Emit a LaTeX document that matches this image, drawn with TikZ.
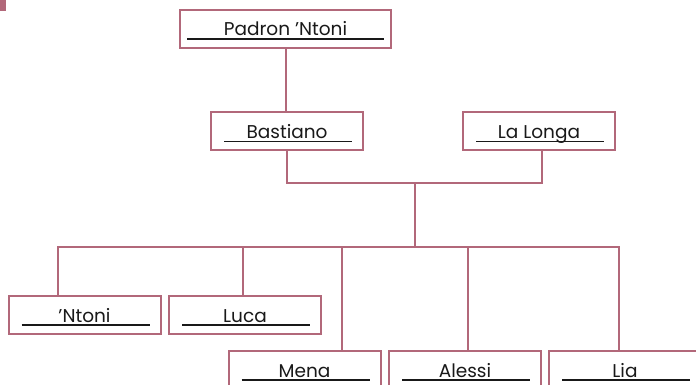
\documentclass[tikz,border=0pt]{standalone}
\usepackage{fontspec}
\setmainfont{Poppins}
\usetikzlibrary{calc}
\definecolor{rose}{RGB}{178,104,122}
\definecolor{ink}{RGB}{25,25,25}
\tikzset{
  famebox/.style={draw=rose, line width=2pt, fill=white, minimum width=152pt, minimum height=38pt,
    inner sep=0pt, text height=14pt, text depth=0pt, font=\fontsize{18.5}{18.5}\selectfont, text=ink},
  link/.style={draw=rose, line width=2pt},
  uline/.style={draw=ink, line width=1.1pt},
}
\begin{document}
\begin{tikzpicture}[x=1pt,y=-1pt]
\useasboundingbox (0,0) rectangle (696,385);
\fill[rose] (0,0) rectangle (6,11);
% nodes
\node[famebox, minimum width=211pt] (padron) at (285.5,29) {Padron ’Ntoni};
\node[famebox] (bast) at (287,131.5) {Bastiano};
\node[famebox] (longa) at (539,131.5) {La Longa};
\node[famebox] (ntoni) at (84.5,315) {’Ntoni};
\node[famebox] (luca) at (245,315) {Luca};
\node[famebox] (mena) at (304.5,370) {Mena};
\node[famebox] (alessi) at (465,370) {Alessi};
\node[famebox] (lia) at (625,370) {Lia};
% underlines
\draw[uline] ($(padron.south west)+(8,-10)$) -- ($(padron.south east)+(-8,-10)$);
\foreach \n in {bast,longa,ntoni,luca,mena,alessi,lia}{
  \draw[uline] ($(\n.south west)+(14,-10)$) -- ($(\n.south east)+(-12,-10)$);
}
% connectors
\coordinate (J) at (415,183);
\coordinate (K) at (415,246.5);
\coordinate (d1) at (58,246.5);
\coordinate (d2) at (243,246.5);
\coordinate (d3) at (342,246.5);
\coordinate (d4) at (468,246.5);
\coordinate (d5) at (619,246.5);
\coordinate (dl) at (542,183);
\draw[link] (padron.south) -- (padron.south |- bast.north);
\draw[link] (bast.south) |- (dl) -- (dl |- longa.south);
\draw[link] (J) -- (K);
\draw[link] (d1 |- ntoni.north) -- (d1) -- (d5) -- (d5 |- lia.north);
\draw[link] (d2) -- (d2 |- luca.north);
\draw[link] (d3) -- (d3 |- mena.north);
\draw[link] (d4) -- (d4 |- alessi.north);
\end{tikzpicture}
\end{document}
